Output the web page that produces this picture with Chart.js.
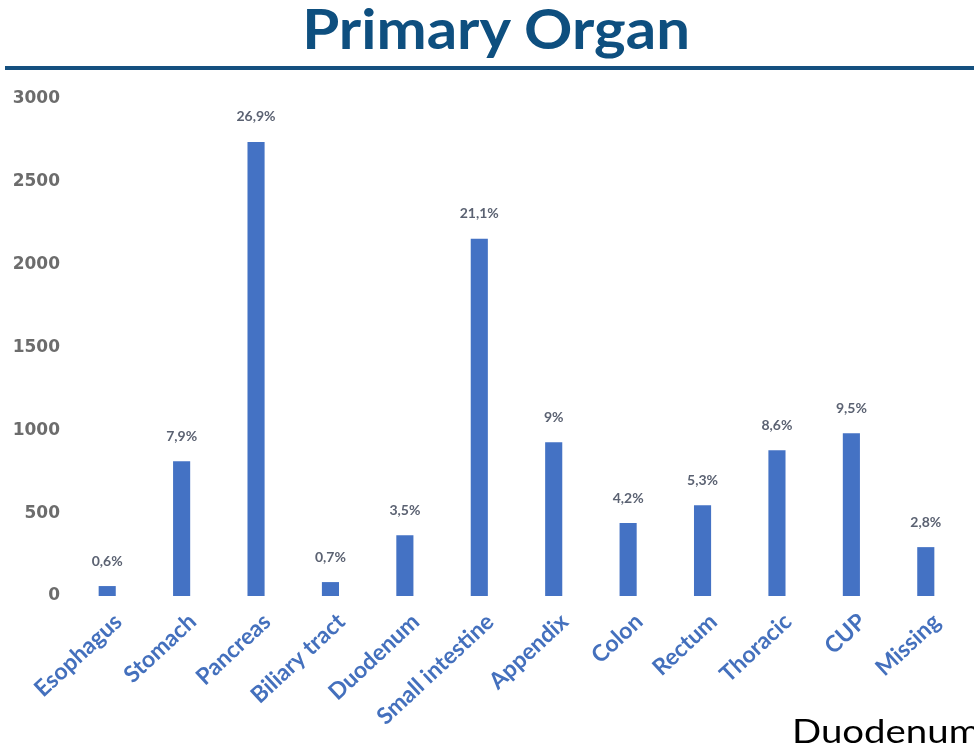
<!DOCTYPE html>
<html>
<head>
<meta charset="utf-8">
<script src="https://cdn.jsdelivr.net/npm/chart.js@4"></script>
<style>
  html, body { margin: 0; padding: 0; background: #ffffff; }
  body { width: 974px; height: 745px; position: relative; overflow: hidden; }
  #title {
    position: absolute; left: 10px; top: -5px; width: 974px; text-align: center;
    font-family: Lato, "Open Sans", sans-serif; font-weight: 700; font-size: 55px;
    color: #0e4f7f; line-height: 66px; transform: scaleX(1.09); transform-origin: 497px 0;
  }
  #rule {
    position: absolute; left: 5px; top: 66px; width: 969px; height: 4px; background: #15507f;
  }
  #chartBox { position: absolute; left: 0; top: 0; width: 974px; height: 745px; }
  #footer {
    position: absolute; left: 792px; top: 711px; white-space: nowrap;
    font-family: Lato, "Open Sans", sans-serif; font-size: 32px; line-height: 40px; color: #000000;
    transform: scaleX(1.2); transform-origin: 0 0;
  }
</style>
</head>
<body>
<div id="title">Primary Organ</div>
<div id="rule"></div>
<div id="chartBox"><canvas id="chart" width="974" height="745"></canvas></div>
<div id="footer">Duodenum</div>
<script>
// Patients per primary tumour site
const organs = ["Esophagus", "Stomach", "Pancreas", "Biliary tract", "Duodenum",
  "Small intestine", "Appendix", "Colon", "Rectum", "Thoracic", "CUP", "Missing"];
const patientCounts = [60, 813, 2741, 84, 367, 2157, 928, 440, 548, 880, 982, 295];
const shareLabels = ["0,6%", "7,9%", "26,9%", "0,7%", "3,5%", "21,1%", "9%",
  "4,2%", "5,3%", "8,6%", "9,5%", "2,8%"];
const yTicks = [0, 500, 1000, 1500, 2000, 2500, 3000];

// Writes the share above each bar
const shareLabelPlugin = {
  id: "shareLabels",
  afterDatasetsDraw(chart) {
    const ctx = chart.ctx;
    const meta = chart.getDatasetMeta(0);
    ctx.save();
    ctx.font = "700 14px Lato, 'Open Sans', sans-serif";
    ctx.fillStyle = "#5b6272";
    ctx.textAlign = "center";
    ctx.textBaseline = "middle";
    meta.data.forEach((bar, i) => {
      ctx.fillText(shareLabels[i], bar.x, bar.y - 25);
    });
    ctx.restore();
  }
};

new Chart(document.getElementById("chart"), {
  type: "bar",
  data: {
    labels: organs,
    datasets: [{
      data: patientCounts,
      backgroundColor: "#4472C4",
      barPercentage: 0.46,
      categoryPercentage: 0.5
    }]
  },
  options: {
    responsive: false,
    animation: false,
    layout: { padding: { top: 99, right: 11, left: 0, bottom: 0 } },
    plugins: { legend: { display: false }, tooltip: { enabled: false } },
    scales: {
      x: {
        grid: { display: false, drawTicks: false },
        border: { display: false },
        ticks: {
          color: "#4470bd",
          font: { family: "Lato, 'Open Sans', sans-serif", size: 23, weight: "700" },
          minRotation: 43, maxRotation: 43, padding: 12, autoSkip: false,
          labelOffset: 11
        },
        afterFit(scale) { scale.height = 149; }
      },
      y: {
        min: 0, max: 3000,
        afterBuildTicks(scale) { scale.ticks = yTicks.map(v => ({ value: v })); },
        grid: { display: false, drawTicks: false },
        border: { display: false },
        ticks: {
          color: "#6c6c6c",
          font: { family: "'DejaVu Sans', sans-serif", size: 17, weight: "700" },
          padding: 10,
          callback: (v) => String(v)
        },
        afterFit(scale) { scale.width = 70; }
      }
    }
  },
  plugins: [shareLabelPlugin]
});
</script>
</body>
</html>
